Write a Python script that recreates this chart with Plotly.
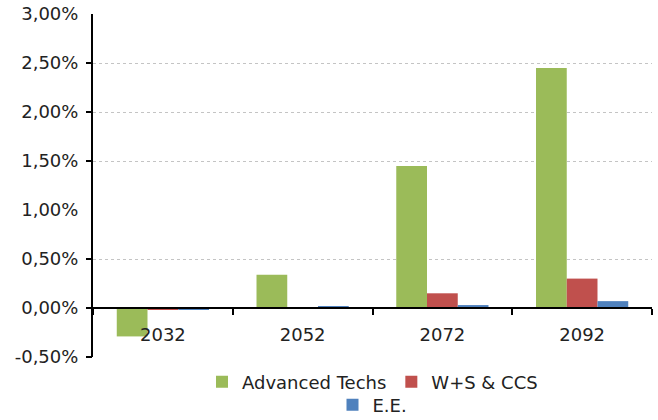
import plotly.graph_objects as go

categories = ["2032", "2052", "2072", "2092"]
advanced_techs = [-0.0029, 0.0034, 0.0145, 0.0245]
ws_ccs = [-0.0002, 0.0, 0.0015, 0.0030]
ee = [-0.0002, 0.00012, 0.0003, 0.0007]

y_tick_vals = [-0.005, 0.0, 0.005, 0.010, 0.015, 0.020, 0.025, 0.030]
y_tick_text = ["-0,50%", "0,00%", "0,50%", "1,00%", "1,50%", "2,00%", "2,50%", "3,00%"]
grid_vals = [-0.005, 0.0, 0.005, 0.015, 0.020, 0.025]

FONT = "DejaVu Sans"
FS = 18
y_min, y_max = -0.005, 0.030

fig = go.Figure()
fig.add_trace(go.Bar(x=categories, y=advanced_techs, name="Advanced Techs",
                     marker=dict(color="#9BBB59", line=dict(width=0)), legend="legend"))
fig.add_trace(go.Bar(x=categories, y=ws_ccs, name="W+S & CCS",
                     marker=dict(color="#C0504D", line=dict(width=0)), legend="legend"))
fig.add_trace(go.Bar(x=categories, y=ee, name="E.E.",
                     marker=dict(color="#4F81BD", line=dict(width=0)), legend="legend2"))

fig.add_trace(go.Scatter(x=categories, y=[None]*4, yaxis="y2", showlegend=False,
                         hoverinfo="skip"))

zero_pos = (0 - y_min) / (y_max - y_min)

fig.update_layout(
    width=658, height=420,
    margin=dict(l=93, r=6, t=14, b=63, autoexpand=False),
    paper_bgcolor="white", plot_bgcolor="white",
    font=dict(family=FONT, size=FS, color="#222222"),
    barmode="group", bargap=0.34, bargroupgap=0.0,
    xaxis=dict(
        anchor="free", position=zero_pos, automargin=False,
        showline=True, linecolor="black", linewidth=2,
        ticks="outside", tickson="boundaries", ticklen=6, tickwidth=2, tickcolor="black",
        showgrid=False, ticklabelstandoff=10,
        tickfont=dict(size=FS, family=FONT, color="#222222"),
    ),
    yaxis=dict(
        range=[y_min, y_max], tickvals=y_tick_vals, ticktext=y_tick_text, automargin=False,
        showgrid=False, zeroline=False, showline=True, linecolor="black", linewidth=2,
        ticks="", ticklabelstandoff=9, ticklabeloverflow="allow",
        tickfont=dict(size=FS, family=FONT, color="#222222"),
    ),
    yaxis2=dict(
        range=[y_min, y_max], overlaying="y", side="left", tickvals=grid_vals,
        showticklabels=False, ticks="outside", ticklen=6, tickwidth=2, tickcolor="black",
        showgrid=True, gridcolor="#C4C4C4", griddash="dot", gridwidth=1, zeroline=False,
        showline=False, automargin=False,
    ),
    legend=dict(orientation="h", x=0.5, xanchor="center", y=-0.073, yanchor="middle",
                font=dict(size=FS, family=FONT, color="#222222"), itemwidth=30,
                bgcolor="rgba(0,0,0,0)"),
    legend2=dict(orientation="h", x=0.5, xanchor="center", y=-0.14, yanchor="middle",
                 font=dict(size=FS, family=FONT, color="#222222"), itemwidth=30,
                 bgcolor="rgba(0,0,0,0)"),
)

fig.write_html("out.html", config={"displayModeBar": False},
               post_script="document.body.style.margin='0';")
